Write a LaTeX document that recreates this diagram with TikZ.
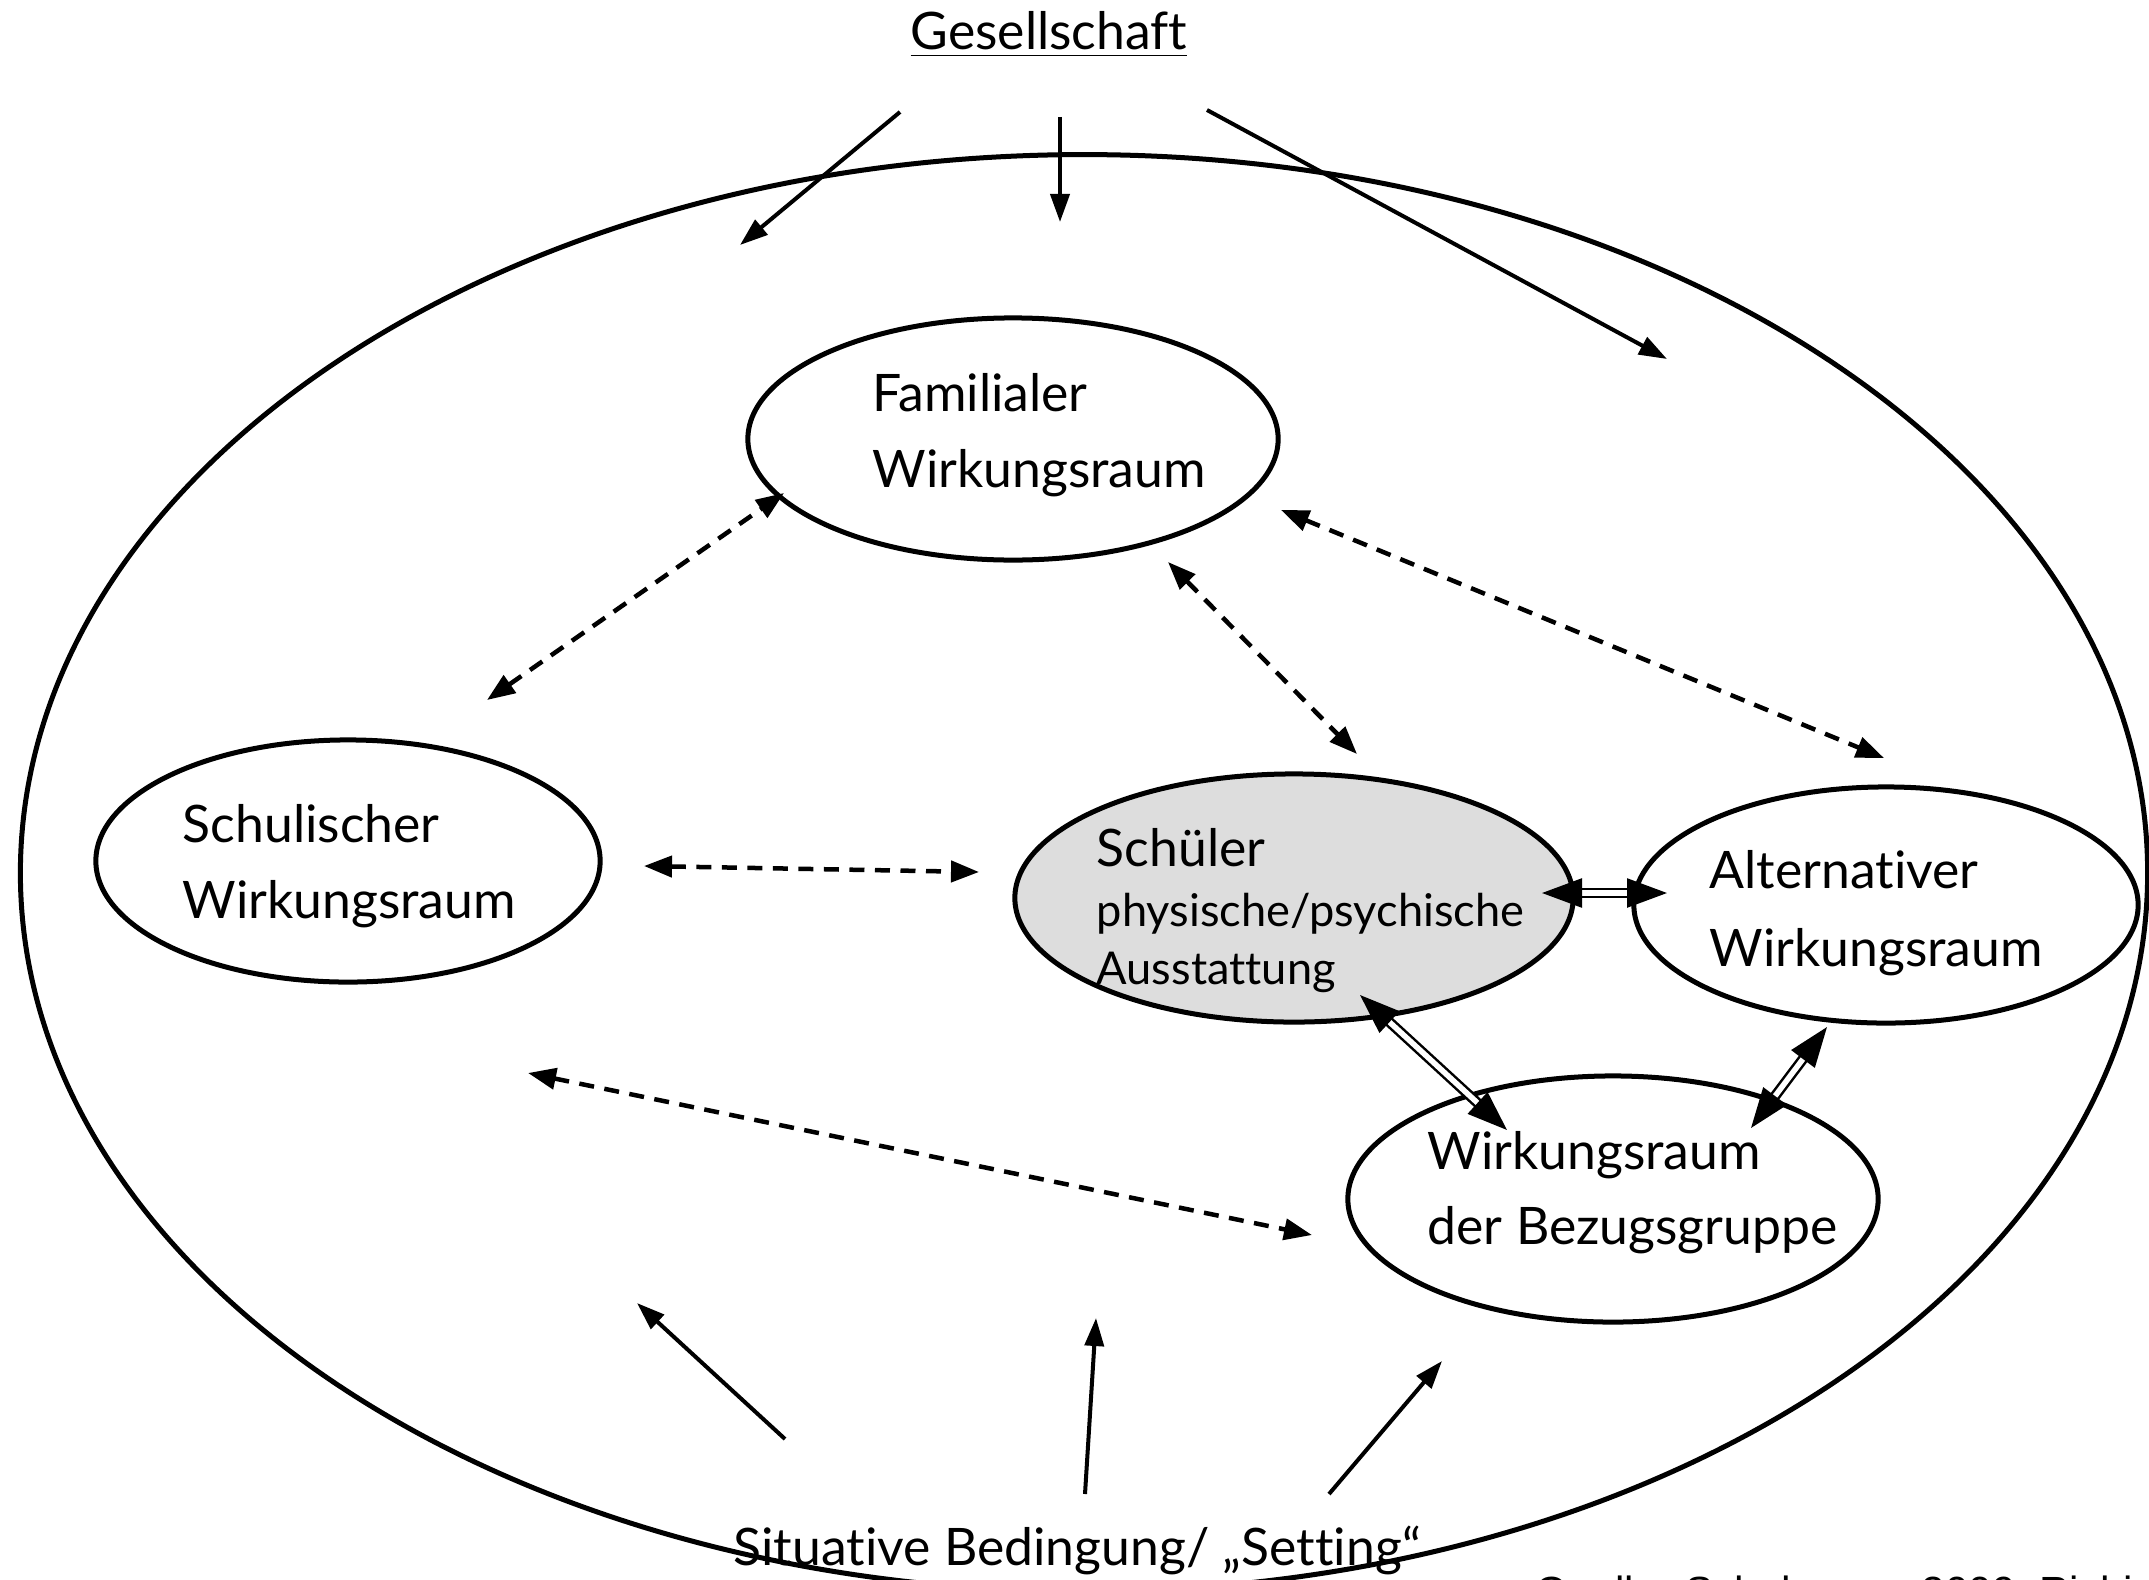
\documentclass[tikz,border=0pt]{standalone}
\usepackage{fontspec}
\setmainfont{Lato}[Ligatures=NoCommon, RawFeature={-liga;-dlig}]
\newfontfamily\srcfont{Liberation Sans}
\usetikzlibrary{arrows.meta,shapes.geometric}
\definecolor{schuelergray}{RGB}{221,221,221}
\begin{document}
\begin{tikzpicture}[x=0.01cm,y=-0.01cm,
  room/.style={draw, ellipse, line width=0.05cm, inner sep=0pt},
  lbl/.style={anchor=base west, inner sep=0pt, font=\fontsize{14.7}{18}\selectfont},
  smalllbl/.style={anchor=base west, inner sep=0pt, font=\fontsize{12.85}{16}\selectfont},
  solidarrow/.style={line width=0.04cm, -{Triangle[length=0.28cm,width=0.19cm]}},
  dasharrow/.style={line width=0.045cm, dash pattern=on 0.15cm off 0.105cm,
     {Triangle[length=0.28cm,width=0.21cm]}-{Triangle[length=0.28cm,width=0.21cm]}},
  dblarrow/.style={line width=0.025cm, double=white, double distance=0.055cm,
     {Triangle[length=0.40cm,width=0.29cm]}-{Triangle[length=0.40cm,width=0.29cm]}}
]
\clip (0,0) rectangle (2149,1579);
\fill[white] (0,0) rectangle (2149,1579);

% ellipses
\node[room, minimum width=21.26cm, minimum height=14.36cm] (world) at (1084,873) {};
\node[room, minimum width=5.30cm, minimum height=2.42cm] (fam) at (1013,439) {};
\node[room, minimum width=5.04cm, minimum height=2.42cm] (schul) at (348,861) {};
\node[room, fill=schuelergray, minimum width=5.58cm, minimum height=2.48cm] (schueler) at (1294,898) {};
\node[room, minimum width=5.04cm, minimum height=2.36cm] (alt) at (1886,905) {};
\node[room, minimum width=5.30cm, minimum height=2.46cm] (bez) at (1613,1199) {};

% labels
\node[anchor=base, inner sep=0pt, font=\fontsize{14.7}{18}\selectfont] (ges) at (1049,50) {\underline{Gesellschaft}};
\node[lbl] (famA) at (872,411) {Familialer};
\node[lbl] (famB) at (872,487) {Wirkungsraum};
\node[lbl] (schulA) at (182,842) {Schulischer};
\node[lbl] (schulB) at (182,918) {Wirkungsraum};
\node[lbl] (schA) at (1096,866) {Schüler};
\node[smalllbl] (schB) at (1096,926) {physische/psychische};
\node[smalllbl] (schC) at (1096,984) {Ausstattung};
\node[lbl] (altA) at (1709,888) {Alternativer};
\node[lbl] (altB) at (1709,966) {Wirkungsraum};
\node[lbl] (bezA) at (1427,1169) {Wirkungsraum};
\node[lbl] (bezB) at (1427,1244) {der Bezugsgruppe};
\node[lbl] (sit) at (733,1565) {Situative Bedingung/ „Setting“};
\node[anchor=base west, inner sep=0pt, font=\srcfont\fontsize{12}{14}\selectfont] (src) at (1535,1606) {Quelle: Schuhmann 2009, Richi};

% connector end points
\coordinate (g1s) at (900,112);  \coordinate (g1e) at (740,245);
\coordinate (g2s) at (1060,117); \coordinate (g2e) at (1060,222);
\coordinate (g3s) at (1207,110); \coordinate (g3e) at (1667,359);
\coordinate (s1s) at (785,1439); \coordinate (s1e) at (637,1303);
\coordinate (s2s) at (1085,1494); \coordinate (s2e) at (1096,1318);
\coordinate (s3s) at (1329,1494); \coordinate (s3e) at (1442,1361);
\coordinate (d1a) at (487,700);  \coordinate (d1b) at (784,493);
\coordinate (d2a) at (644,866);  \coordinate (d2b) at (979,872);
\coordinate (d3a) at (1168,562); \coordinate (d3b) at (1357,754);
\coordinate (d4a) at (1281,510); \coordinate (d4b) at (1884,758);
\coordinate (d5a) at (528,1073); \coordinate (d5b) at (1312,1235);
\coordinate (w1a) at (1542,893); \coordinate (w1b) at (1667,893);
\coordinate (w2a) at (1360,995); \coordinate (w2b) at (1507,1130);
\coordinate (w3a) at (1751,1128); \coordinate (w3b) at (1827,1027);

% solid arrows
\draw[solidarrow] (g1s) -- (g1e);
\draw[solidarrow] (g2s) -- (g2e);
\draw[solidarrow] (g3s) -- (g3e);
\draw[solidarrow] (s1s) -- (s1e);
\draw[solidarrow] (s2s) -- (s2e);
\draw[solidarrow] (s3s) -- (s3e);

% dashed arrows
\draw[dasharrow] (d1a) -- (d1b);
\draw[dasharrow] (d2a) -- (d2b);
\draw[dasharrow] (d3a) -- (d3b);
\draw[dasharrow] (d4a) -- (d4b);
\draw[dasharrow] (d5a) -- (d5b);

% double arrows
\draw[dblarrow] (w1a) -- (w1b);
\draw[dblarrow] (w2a) -- (w2b);
\draw[dblarrow] (w3a) -- (w3b);
\end{tikzpicture}
\end{document}
